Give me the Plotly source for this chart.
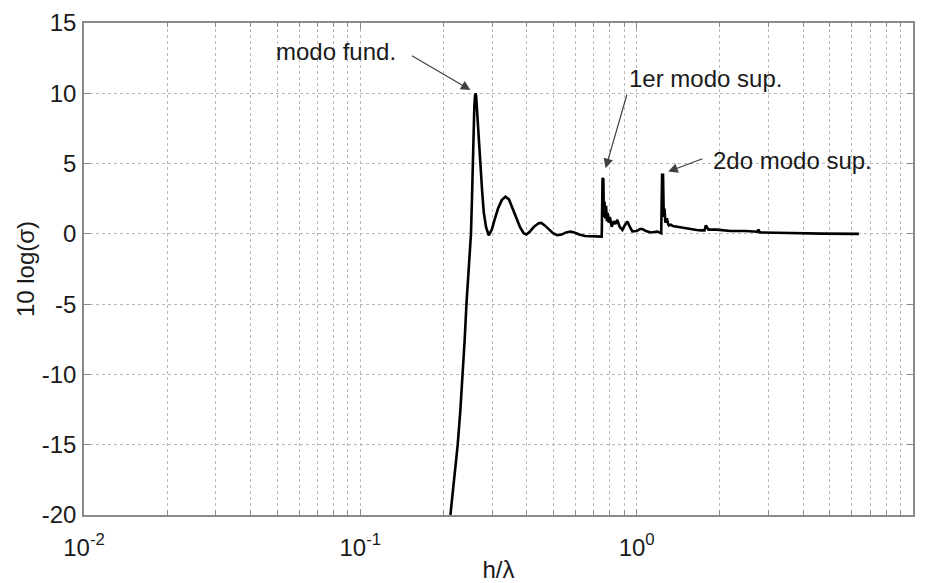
import numpy as np
import plotly.graph_objects as go

# ---- data ----
h_lambda = [
    0.2118, 0.2185, 0.2251, 0.2302, 0.2348, 0.2386, 0.2421, 0.2470,
    0.2514, 0.2535, 0.2550, 0.2570, 0.2585, 0.2600, 0.2612, 0.2625,
    0.2640, 0.2670, 0.2720, 0.2760, 0.2798, 0.2850, 0.2913, 0.2990,
    0.3060, 0.3150, 0.3250, 0.3351, 0.3450, 0.3540, 0.3640, 0.3780,
    0.3900, 0.3990, 0.4100, 0.4250, 0.4420, 0.4520, 0.4650, 0.4811,
    0.4980, 0.5160, 0.5350, 0.5550, 0.5766, 0.5950, 0.6200, 0.6500,
    0.6813, 0.7100, 0.7408, 0.7475, 0.7525, 0.7575, 0.7610, 0.7650,
    0.7700, 0.7750, 0.7800, 0.7860, 0.7920, 0.8000, 0.8120, 0.8260,
    0.8380, 0.8510, 0.8680, 0.8877, 0.9050, 0.9254, 0.9450, 0.9647,
    1.0000, 1.0300, 1.0490, 1.0800, 1.1240, 1.1600, 1.1890, 1.2270,
    1.2360, 1.2460, 1.2530, 1.2610, 1.2700, 1.2800, 1.2870, 1.3000,
    1.3080, 1.3300, 1.3520, 1.4000, 1.4460, 1.5000, 1.5720, 1.6500,
    1.7080, 1.7600, 1.7800, 1.7980, 1.8200, 1.9440, 2.1900, 2.4770,
    2.7300, 2.7600, 2.7900, 3.2000, 3.5900, 4.6700, 6.3700,
]
ten_log_sigma = [
    -20.0, -17.5, -15.0, -12.5, -10.0, -7.5, -5.0, -2.5,
    0.0, 2.5, 5.0, 7.5, 9.0, 9.8, 10.0, 9.8,
    9.0, 7.0, 5.0, 3.0, 1.5, 0.5, -0.1, 0.3,
    1.0, 1.8, 2.4, 2.65, 2.45, 1.9, 1.2, 0.5,
    0.05, -0.05, 0.15, 0.5, 0.75, 0.78, 0.6, 0.3,
    0.05, -0.1, -0.05, 0.1, 0.17, 0.1, -0.05, -0.15,
    -0.18, -0.2, -0.2, -0.2, 3.9, 3.96, 1.2, 2.3,
    1.1, 2.0, 0.9, 1.5, 0.8, 1.2, 0.5, 0.9,
    0.7, 1.0, 0.5, 0.28, 0.6, 0.88, 0.5, 0.17,
    0.2, 0.35, 0.35, 0.2, 0.1, 0.15, 0.17, 0.05,
    4.2, 4.2, 1.2, 1.8, 0.8, 1.0, 1.1, 0.7,
    0.6, 0.65, 0.55, 0.5, 0.45, 0.4, 0.33, 0.28,
    0.25, 0.25, 0.6, 0.45, 0.3, 0.3, 0.2, 0.2,
    0.15, 0.3, 0.1, 0.08, 0.05, 0.02, 0.0,
]

x_tick_vals = [0.01, 0.1, 1, 10]
x_tick_text = ["10<sup>-2</sup>", "10<sup>-1</sup>", "10<sup>0</sup>", "10<sup>1</sup>"]
y_tick_vals = [-20, -15, -10, -5, 0, 5, 10, 15]
y_tick_text = ["-20", "-15", "-10", "-5", "0", "5", "10", "15"]

FONT = "Liberation Sans, Arial, Helvetica, sans-serif"
GRID = "#b8b8b8"
FRAME = "#8a8a8a"

fig = go.Figure()
fig.add_trace(go.Scatter(
    x=h_lambda, y=ten_log_sigma, mode="lines",
    line=dict(color="black", width=2.6), showlegend=False,
))

# arrows: (head x, head y, tail x, tail y) in data units
arrows = [
    (0.2504, 10.24, 0.1518, 12.73),
    (0.772, 4.67, 0.925, 10.0),
    (1.30, 4.43, 1.753, 5.38),
]
for hx, hy, tx, ty in arrows:
    fig.add_annotation(
        x=np.log10(hx), y=hy, ax=np.log10(tx), ay=ty,
        xref="x", yref="y", axref="x", ayref="y",
        text="", showarrow=True, arrowhead=2, arrowsize=1.6,
        arrowwidth=1.2, arrowcolor="#404040",
    )

labels = [
    ("modo fund.", 0.0818, 12.94),
    ("1er modo sup.", 1.778, 11.02),
    ("2do modo sup.", 3.674, 5.19),
]
for txt, lx, ly in labels:
    fig.add_annotation(
        x=np.log10(lx), y=ly, xref="x", yref="y", text=txt,
        showarrow=False, font=dict(family=FONT, size=24, color="#1a1a1a"),
        xanchor="center", yanchor="middle",
    )

fig.update_layout(
    width=931, height=583,
    margin=dict(l=84, r=18, t=23, b=68),
    paper_bgcolor="white", plot_bgcolor="white",
    font=dict(family=FONT, size=24, color="#1a1a1a"),
    xaxis=dict(
        type="log", range=[-2, 1], automargin=False,
        tickmode="array", tickvals=x_tick_vals, ticktext=x_tick_text,
        ticks="inside", ticklen=6, tickcolor=FRAME,
        showline=True, linecolor=FRAME, linewidth=1.5, mirror="allticks",
        showgrid=True, gridcolor=GRID, griddash="dot", gridwidth=1,
        zeroline=False,
        minor=dict(dtick="D1", ticks="inside", ticklen=4, tickcolor=FRAME,
                   showgrid=True, gridcolor=GRID, griddash="dot", gridwidth=1),
        title=dict(text="h/λ", standoff=12, font=dict(size=24)),
        ticklabelstandoff=10,
    ),
    yaxis=dict(
        range=[-20, 15], automargin=False,
        tickmode="array", tickvals=y_tick_vals, ticktext=y_tick_text,
        ticks="inside", ticklen=6, tickcolor=FRAME,
        showline=True, linecolor=FRAME, linewidth=1.5, mirror="allticks",
        showgrid=True, gridcolor=GRID, griddash="dot", gridwidth=1,
        zeroline=False,
        title=dict(text="10 log(σ)", standoff=0, font=dict(size=24)),
        ticklabelstandoff=1,
    ),
)

fig.write_html("out.html")
